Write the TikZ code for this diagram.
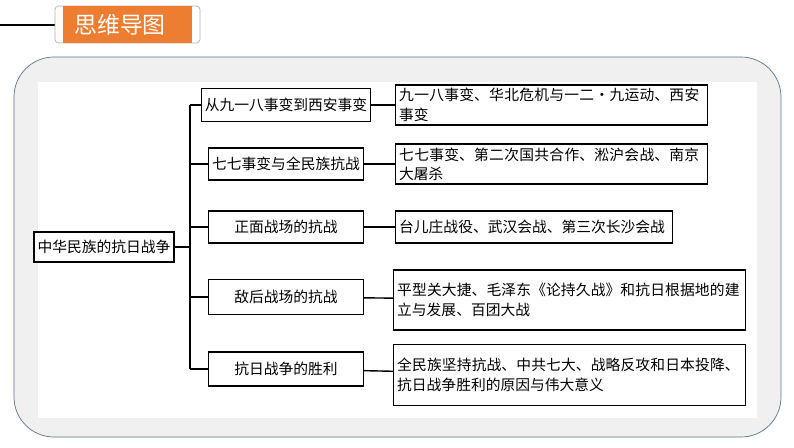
\documentclass[tikz,border=0pt]{standalone}
\usepackage{fontspec}
\setmainfont{Noto Sans CJK SC}
\XeTeXlinebreaklocale "zh"
\XeTeXlinebreakskip=0pt plus 1pt
\usetikzlibrary{positioning}
\definecolor{titleorange}{HTML}{ED7D31}
\definecolor{framegray}{HTML}{F0F0F0}
\definecolor{frameblue}{HTML}{5B7490}
\tikzset{
  topic/.style={draw, thick, fill=white, inner sep=2pt, font=\fontsize{8.4pt}{11pt}\selectfont},
  detail/.style={topic, align=left, anchor=west, text width=#1},
  link/.style={thick}
}
\begin{document}
\begin{tikzpicture}[x=0.02cm, y=-0.02cm]
    \useasboundingbox (0,0) rectangle (794,447);
    % Title tab
    \draw[thick] (0,25) -- (55,25);
    \draw[gray!60, fill=white, rounded corners=2pt] (55,6) rectangle (200,43);
    \fill[titleorange] (63,6) rectangle (192,43);
    \node[text=white, font=\fontsize{13pt}{15pt}\selectfont] (title) at (120,25) {思维导图};

    % Frame
    \draw[frameblue, fill=framegray, rounded corners=0.8cm] (14,57) rectangle (781,437);
    \fill[white] (38,82) rectangle (757,418);

    % Root
    \node[topic, minimum width=2.64cm, minimum height=0.6cm] (root) at (104,247) {中华民族的抗日战争};
    \coordinate (trunk) at (190,247);
    \coordinate (trunktop) at (190,105);
    \coordinate (trunkbot) at (190,369);
    \draw[link] (root) -- (trunk);
    \draw[link] (trunktop) -- (trunkbot);

    % Branches
    \node[topic, minimum width=3.16cm, minimum height=0.66cm] (war1) at (286,105) {从九一八事变到西安事变};
    \node[topic, minimum width=3.1cm, minimum height=0.64cm] (war2) at (286,164) {七七事变与全民族抗战};
    \node[topic, minimum width=3.1cm, minimum height=0.64cm] (war3) at (286,227) {正面战场的抗战};
    \node[topic, minimum width=3.1cm, minimum height=0.7cm] (war4) at (286,297) {敌后战场的抗战};
    \node[topic, minimum width=3.1cm, minimum height=0.68cm] (war5) at (286,369) {抗日战争的胜利};

    \node[detail=6.1cm, minimum height=0.66cm] (fact1) at (395,105) {九一八事变、华北危机与一二·九运动、西安事变};
    \node[detail=6.1cm, minimum height=0.64cm] (fact2) at (395,164) {七七事变、第二次国共合作、淞沪会战、南京大屠杀};
    \node[detail=5.4cm, minimum height=0.64cm] (fact3) at (395,227) {台儿庄战役、武汉会战、第三次长沙会战};
    \node[detail=6.9cm, minimum height=1.2cm] (fact4) at (393,300) {平型关大捷、毛泽东《论持久战》和抗日根据地的建立与发展、百团大战};
    \node[detail=6.9cm, minimum height=1.22cm] (fact5) at (393,375) {全民族坚持抗战、中共七大、战略反攻和日本投降、抗日战争胜利的原因与伟大意义};

    \foreach \i in {1,...,5} {
        \draw[link] (war\i.west -| trunk) -- (war\i.west);
        \draw[link] (war\i) -- (fact\i);
    }
\end{tikzpicture}
\end{document}
